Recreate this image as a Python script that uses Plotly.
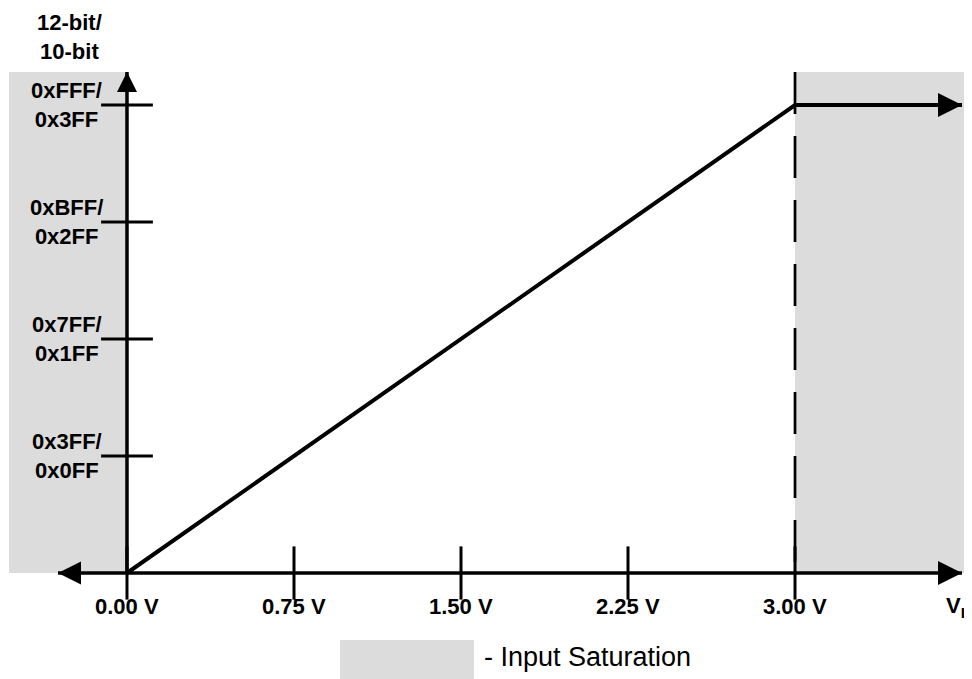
import plotly.graph_objects as go

# ADC transfer function: input volts -> 12-bit output code
vin = [0.0, 3.0, 3.75]
code = [0, 4095, 4095]

v_axis_left = -0.31     # end of the negative input arrow
v_axis_right = 3.75     # end of the input axis arrow
code_top = 4384         # top of the output axis / shaded regions

x_ticks = [0.0, 0.75, 1.5, 2.25, 3.0]
x_tick_labels = ["0.00 V", "0.75 V", "1.50 V", "2.25 V", "3.00 V"]
y_ticks = [1023, 2047, 3071, 4095]
y_tick_labels = ["0x3FF/<br>0x0FF", "0x7FF/<br>0x1FF", "0xBFF/<br>0x2FF", "0xFFF/<br>0x3FF"]

sat_low = [-0.53, 0.0]      # shaded input ranges (saturation)
sat_high = [3.0, 3.85]

FONT = "Arial, Liberation Sans, sans-serif"
GRAY = "#dcdcdc"

fig = go.Figure()

# shaded saturation regions
for lo, hi in (sat_low, sat_high):
    fig.add_shape(type="rect", xref="x", yref="y", x0=lo, x1=hi, y0=0, y1=code_top,
                  fillcolor=GRAY, line_width=0, layer="below")

# dashed full scale marker
fig.add_trace(go.Scatter(x=[3.0, 3.0], y=[code_top, 0], mode="lines",
                         line=dict(color="black", width=2.7, dash="42px,22px")))

# axes
fig.add_trace(go.Scatter(x=[v_axis_left, v_axis_right], y=[0, 0], mode="lines",
                         line=dict(color="black", width=3.5)))
fig.add_trace(go.Scatter(x=[0, 0], y=[0, code_top], mode="lines",
                         line=dict(color="black", width=3.5)))

# tick marks
fig.add_trace(go.Scatter(x=x_ticks, y=[0] * len(x_ticks), mode="markers",
                         marker=dict(symbol="line-ns", size=38, line=dict(color="black", width=3))))
fig.add_trace(go.Scatter(x=[0] * len(y_ticks), y=y_ticks, mode="markers",
                         marker=dict(symbol="line-ew", size=37, line=dict(color="black", width=3))))

# transfer curve
fig.add_trace(go.Scatter(x=vin, y=code, mode="lines",
                         line=dict(color="black", width=4)))


def arrow_head(x, y, ax, ay, size):
    fig.add_annotation(x=x, y=y, ax=ax, ay=ay, xref="x", yref="y", axref="x", ayref="y",
                       text="", showarrow=True, arrowhead=2, arrowsize=size, arrowwidth=2,
                       arrowcolor="black", standoff=0)


arrow_head(v_axis_right, 0, 0, 0, 2.4)
arrow_head(v_axis_left, 0, 0, 0, 2.3)
arrow_head(0, code_top, 0, 0, 2.0)
arrow_head(vin[-1], code[-1], vin[1], code[1], 2.4)

bold = dict(family=FONT, size=22, color="black", weight="bold")

for v, lab in zip(x_ticks, x_tick_labels):
    fig.add_annotation(x=v, y=-293, text=lab, showarrow=False, font=bold,
                       xanchor="center", yanchor="middle")
fig.add_annotation(x=3.67, y=-300, text="V<sub>IN</sub>", showarrow=False, font=bold,
                   xanchor="left", yanchor="middle")

for c, lab in zip(y_ticks, y_tick_labels):
    fig.add_annotation(x=-0.27, y=c, text=lab, showarrow=False, font=bold,
                       xanchor="center", yanchor="middle", align="center")
fig.add_annotation(x=-0.26, y=4690, text="12-bit/<br>10-bit", showarrow=False, font=bold,
                   xanchor="center", yanchor="middle", align="center")

# legend swatch
fig.add_shape(type="rect", xref="paper", yref="paper", x0=0.3416, x1=0.4794, y0=0.0118, y1=0.0692,
              fillcolor=GRAY, line_width=0)
fig.add_annotation(xref="paper", yref="paper", x=0.4877, y=0.0442, text="- Input Saturation",
                   showarrow=False, xanchor="left", yanchor="middle",
                   font=dict(family=FONT, size=27, color="black"))

# the page puts the plot 8px in from the top-left corner, ranges account for it
fig.update_layout(
    width=972, height=679, margin=dict(l=0, r=0, t=0, b=0),
    paper_bgcolor="white", plot_bgcolor="white", showlegend=False,
    xaxis=dict(range=[-0.5344, 3.8308], visible=False, fixedrange=True),
    yaxis=dict(range=[-997.5, 4943.75], visible=False, fixedrange=True),
)

fig.write_html("out.html")
